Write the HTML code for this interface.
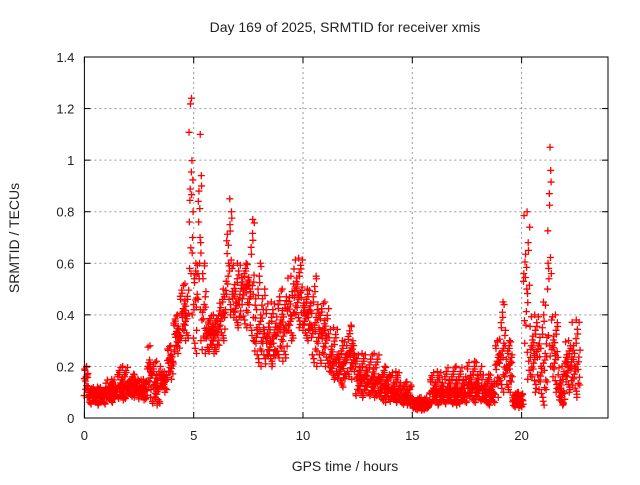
<!DOCTYPE html>
<html><head><meta charset="utf-8"><style>
body{margin:0;background:#fff;}
text{font-family:"Liberation Sans",sans-serif;font-size:13px;fill:#222;}
</style></head><body>
<svg id="chart" width="640" height="480" viewBox="0 0 640 480" xmlns="http://www.w3.org/2000/svg">
<rect width="640" height="480" fill="#fff"/>
<text x="345" y="32" text-anchor="middle" style="font-size:14px">Day 169 of 2025, SRMTID for receiver xmis</text>
<text x="345" y="471" text-anchor="middle" style="font-size:14px">GPS time / hours</text>
<text transform="translate(19,238) rotate(-90)" text-anchor="middle" style="font-size:14px">SRMTID / TECUs</text>
<g id="grid"></g><g id="marks"></g><g id="axes"></g>
</svg>
<script>
// segment data: start hour, low, typical, high values (TECU)
const segStart=[0,0.2,1.0,1.5,2.0,2.5,2.9,3.1,3.5,3.8,4.1,4.4,4.8,5.0,5.2,5.4,5.6,6.2,6.5,6.8,7.2,7.6,7.8,8.3,8.8,9.3,9.6,10.0,10.4,10.8,11.2,11.6,12.0,12.4,13.0,13.5,14.0,14.5,15.0,15.8,16.5,17.5,18.2,18.8,19.0,19.3,19.6,20.1,20.4,20.8,21.2,21.4,21.7,22.0,22.3];
const segEnd=22.7;
const segLo=[0.08,0.05,0.06,0.07,0.08,0.07,0.08,0.05,0.10,0.15,0.25,0.30,0.40,0.25,0.30,0.25,0.25,0.30,0.40,0.35,0.35,0.30,0.20,0.20,0.22,0.30,0.35,0.30,0.20,0.20,0.15,0.12,0.15,0.08,0.08,0.06,0.06,0.05,0.03,0.05,0.05,0.06,0.05,0.08,0.10,0.10,0.04,0.15,0.10,0.05,0.20,0.10,0.05,0.10,0.08];
const segMid=[0.15,0.09,0.10,0.12,0.12,0.11,0.18,0.12,0.15,0.22,0.32,0.40,0.80,0.45,0.70,0.40,0.33,0.40,0.60,0.45,0.50,0.50,0.35,0.30,0.35,0.40,0.48,0.40,0.35,0.32,0.22,0.20,0.25,0.15,0.14,0.12,0.10,0.08,0.05,0.10,0.10,0.12,0.10,0.20,0.25,0.20,0.07,0.50,0.25,0.20,0.60,0.25,0.10,0.20,0.20];
const segHi=[0.20,0.12,0.15,0.20,0.17,0.15,0.28,0.22,0.18,0.28,0.40,0.52,1.24,0.60,1.10,0.60,0.40,0.50,0.85,0.60,0.60,0.77,0.60,0.45,0.50,0.55,0.62,0.50,0.55,0.45,0.35,0.30,0.36,0.25,0.25,0.20,0.18,0.14,0.08,0.18,0.20,0.22,0.17,0.30,0.45,0.30,0.10,0.80,0.40,0.45,1.05,0.40,0.20,0.30,0.38];
const xTicks=[0,5,10,15,20];
const yTicks=[0,0.2,0.4,0.6,0.8,1,1.2,1.4];
const yTickLabels=["0","0.2","0.4","0.6","0.8","1","1.2","1.4"];

const L=84.4,R=608,T=57,B=418;
const X=h=>L+h*21.86;
const Y=v=>B-(v/1.4)*(B-T);
const NS="http://www.w3.org/2000/svg";
function mk(tag,attrs,parent){const e=document.createElementNS(NS,tag);for(const k in attrs)e.setAttribute(k,attrs[k]);parent.appendChild(e);return e;}
const grid=document.getElementById('grid'),axes=document.getElementById('axes'),marks=document.getElementById('marks');
yTicks.forEach((v,i)=>{
  if(i>0&&i<yTicks.length-1){const g=mk('line',{x1:L,x2:R,y1:Y(v),y2:Y(v),stroke:'#999','stroke-dasharray':'2,3','stroke-width':1},grid);
  
  }
  const t=mk('line',{x1:L,x2:L+6,y1:Y(v),y2:Y(v),stroke:'#000'},axes);
  
  
  mk('line',{x1:R,x2:R-6,y1:Y(v),y2:Y(v),stroke:'#000'},axes);
  const l=mk('text',{x:L-10,y:Y(v)+5,'text-anchor':'end'},axes);l.textContent=yTickLabels[i];
  
  
});
xTicks.forEach(h=>{
  if(h>0){const g=mk('line',{x1:X(h),x2:X(h),y1:T,y2:B,stroke:'#999','stroke-dasharray':'2,3','stroke-width':1},grid);
  
  }
  const t=mk('line',{x1:X(h),x2:X(h),y1:B,y2:B-6,stroke:'#000'},axes);
  
  
  mk('line',{x1:X(h),x2:X(h),y1:T,y2:T+6,stroke:'#000'},axes);
  const l=mk('text',{x:X(h),y:B+22,'text-anchor':'middle'},axes);l.textContent=String(h);
  
  
});
const frame=mk('rect',{x:L,y:T,width:R-L,height:B-T,fill:'none',stroke:'#000','stroke-width':1},axes);


function cross(h,v){
  const x=X(h),y=Y(v);
  const p=mk('path',{d:`M${x-3.5},${y}H${x+3.5}M${x},${y-3.5}V${y+3.5}`,stroke:'#f00','stroke-width':1.3,fill:'none'},marks);
  
  
}
// fixed spreading pattern (style only): fraction of the lo..mid (neg) or mid..hi (pos) range
const spread=[-0.9,0.2,-0.4,0.6,-0.1,0.35,-0.7,0.05,0.95,-0.25,0.5,-0.55,0.15,-0.05,0.8,-0.35,0.28,-0.8,0.1,0.45,-0.15,0.7,-0.6,0.0];
let pi=0;
segStart.forEach((s,i)=>{
  const e=i<segStart.length-1?segStart[i+1]:segEnd;
  const lo=segLo[i],mid=segMid[i],hi=segHi[i];
  const n=Math.max(1,Math.round((e-s)/0.04));
  for(let k=0;k<n;k++){
    const h=s+(e-s)*k/n;
    for(let j=0;j<3;j++){
      const f=spread[pi%spread.length];pi+=7;
      const v=f<0?mid+f*(mid-lo):mid+f*(hi-mid);
      cross(h+(j-1)*0.012,v);
    }
  }
  const peakH=s+(e-s)*0.5;
  cross(peakH,hi);cross(peakH+0.03,lo);
});
</script>
</body></html>
